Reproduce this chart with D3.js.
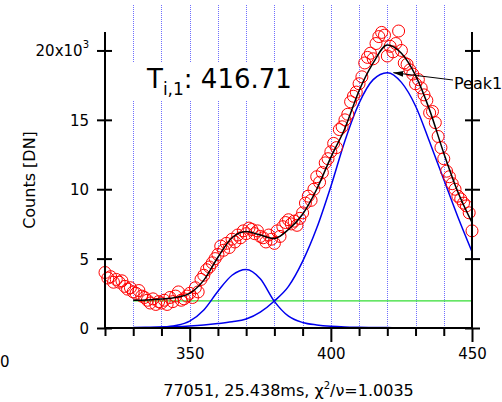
<!DOCTYPE html>
<html>
<head>
<meta charset="utf-8">
<script src="https://cdn.jsdelivr.net/npm/d3@7"></script>
<style>
  body { margin: 0; background: #fff; }
  svg { display: block; font-family: "DejaVu Sans", sans-serif; }
</style>
</head>
<body>
<svg width="502" height="402"></svg>
<script>
// measured counts (channel 320..450, step 1), in units of 10^3 DN
var dataX = d3.range(320, 451);
var dataY = [
  4.0, 3.6, 3.7, 3.3, 3.5, 3.3, 3.4, 3.0, 2.8, 2.9,
  2.6, 2.5, 2.7, 2.3, 2.2, 2.0, 1.8, 2.1, 1.7, 1.9,
  1.8, 2.0, 1.7, 2.2, 1.9, 2.3, 2.6, 2.0, 2.1, 2.3,
  2.5, 2.2, 2.9, 2.6, 3.5, 3.8, 4.2, 4.4, 4.7, 5.0,
  5.3, 5.9, 5.6, 6.1, 5.8, 6.4, 6.2, 6.7, 6.5, 7.0,
  6.8, 7.2, 7.1, 6.8, 7.0, 6.6, 6.5, 6.2, 6.7, 6.4,
  6.1, 7.0, 6.6, 7.3, 7.6, 7.8, 7.5, 7.7, 7.4, 7.9,
  8.3, 9.0, 9.5, 9.2, 10.0, 10.9, 10.5, 11.2, 11.9, 12.2,
  12.7, 13.3, 13.0, 14.3, 14.5, 15.0, 15.4, 16.3, 16.7, 17.0,
  17.6, 18.1, 19.1, 19.5, 19.8, 19.4, 20.5, 21.0, 21.3, 21.1,
  19.6, 20.3, 19.9, 20.5, 21.4, 20.0, 19.1, 19.0, 18.6, 18.3,
  17.6, 17.9, 17.3, 16.8, 16.4, 15.5, 15.6, 14.8, 13.8, 13.0,
  12.2, 11.3, 10.9, 10.4, 10.0, 9.5, 9.3, 9.0, 8.8, 8.3,
  7.0
];

// fit curves, sampled every 5 channels from 330 to 450
var fitX = d3.range(330, 451, 5);
var fitTotal = [2.0, 2.02, 2.09, 2.2, 2.5, 3.45, 5.1, 6.5, 6.95, 6.7, 6.45, 7.1, 8.2,
                10.0, 12.3, 14.4, 17.1, 19.1, 20.4, 19.8, 18.2, 15.7, 12.6, 9.8, 7.6];
var fitPeak0 = [0.0, 0.02, 0.06, 0.18, 0.5, 1.3, 2.65, 3.8, 4.22, 3.55, 1.92, 0.85, 0.4,
                0.22, 0.12, 0.07, 0.05, 0.04, 0.03, 0.02, 0.02, 0.01, 0.01, 0.01, 0.01];
var fitPeak1 = [0.03, 0.05, 0.07, 0.1, 0.15, 0.22, 0.32, 0.45, 0.65, 1.15, 1.95, 3.0, 4.8,
                7.2, 10.2, 13.5, 16.2, 17.9, 18.4, 17.7, 16.0, 13.4, 10.7, 8.0, 5.5];
var fitBase = [1.95, 1.95, 1.95, 1.95, 1.95, 1.95, 1.95, 1.95, 1.95, 1.95, 1.95, 1.95, 1.95,
               1.95, 1.95, 1.95, 1.95, 1.95, 1.95, 1.95, 1.95, 1.95, 1.95, 1.95, 1.95];

var gridX = [330, 340, 350, 360, 370, 380, 390, 400, 410, 420, 430, 440];
var xMajor = [350, 400, 450];
var xMinor = [320, 330, 340, 360, 370, 380, 390, 410, 420, 430, 440];
var yTicks = [0, 5, 10, 15, 20];

var peakLabel = "Peak1";
var peakAt = [420, 18.4];

var svg = d3.select('svg');

var x = d3.scaleLinear().domain([320, 450]).range([105, 472]);
var y = d3.scaleLinear().domain([0, 21.33]).range([328, 32]);

// dotted grid
svg.append('g')
  .selectAll('line')
  .data(gridX)
  .enter()
  .append('line')
  .attr('x1', function(d) { return Math.round(x(d)) + 0.5; })
  .attr('x2', function(d) { return Math.round(x(d)) + 0.5; })
  .attr('y1', 5)
  .attr('y2', y(0))
  .attr('stroke', '#6f6fff')
  .attr('stroke-width', 1)
  .attr('stroke-dasharray', '1,1');

// label box (white background hides the grid)
svg.append('rect')
  .attr('x', 129).attr('y', 62).attr('width', 162).attr('height', 38)
  .attr('fill', '#fff');

var title = svg.append('text')
  .attr('x', 147).attr('y', 88)
  .attr('font-size', 26)
  .attr('fill', '#000');
title.append('tspan').text('T');
title.append('tspan').attr('font-size', 17).attr('dy', 7).text('i,1');
title.append('tspan').attr('dy', -7).text(': 416.71');

// fit lines
var line = function(arr) {
  return d3.line()
    .x(function(d, i) { return x(fitX[i]); })
    .y(function(d) { return y(d); })
    .curve(d3.curveMonotoneX)(arr);
};

svg.append('path').attr('d', line(fitBase))
  .attr('fill', 'none').attr('stroke', '#33dd33').attr('stroke-width', 1.2);
svg.append('path').attr('d', line(fitPeak0))
  .attr('fill', 'none').attr('stroke', '#0000ee').attr('stroke-width', 1.5);
svg.append('path').attr('d', line(fitPeak1))
  .attr('fill', 'none').attr('stroke', '#0000ee').attr('stroke-width', 1.5);

// data points
svg.append('g')
  .selectAll('circle')
  .data(dataY)
  .enter()
  .append('circle')
  .attr('cx', function(d, i) { return x(dataX[i]); })
  .attr('cy', function(d) { return y(d); })
  .attr('r', 6)
  .attr('fill', 'none')
  .attr('stroke', '#ff0000')
  .attr('stroke-width', 1);

svg.append('path').attr('d', line(fitTotal))
  .attr('fill', 'none').attr('stroke', '#000').attr('stroke-width', 1.5);

// axes
var bottomMajor = d3.axisBottom(x).tickValues(xMajor).tickSize(14).tickPadding(6)
  .tickFormat(d3.format('d'));
var bottomMinor = d3.axisBottom(x).tickValues(xMinor).tickSize(8).tickFormat('');

var gxMinor = svg.append('g').attr('transform', 'translate(0,' + y(0) + ')').call(bottomMinor);
var gx = svg.append('g').attr('transform', 'translate(0,' + y(0) + ')').call(bottomMajor);

var gyL = svg.append('g').attr('transform', 'translate(' + x(320) + ',0)')
  .call(d3.axisLeft(y).tickValues(yTicks).tickSize(8).tickPadding(8));
var gyR = svg.append('g').attr('transform', 'translate(' + x(450) + ',0)')
  .call(d3.axisRight(y).tickValues(yTicks).tickSize(8).tickFormat(''));

gyL.selectAll('.tick line').attr('x1', 7);
gyR.selectAll('.tick line').attr('x1', -7);

[gx, gxMinor, gyL, gyR].forEach(function(g) {
  g.select('.domain').remove();
  g.selectAll('.tick line').attr('stroke', '#000').attr('stroke-width', 2);
  g.selectAll('text').attr('font-size', 15).attr('font-family', '"DejaVu Sans", sans-serif')
    .attr('fill', '#000');
});

gyL.selectAll('.tick text').attr('dy', '0.36em').attr('x', -16).attr('text-anchor', 'end')
  .each(function(d) {
    if (d === 20) {
      var t = d3.select(this).text('20x10');
      t.append('tspan').attr('font-size', 10).attr('dy', -8).text('3');
    }
  });

// axis lines
svg.append('line')
  .attr('x1', x(320)).attr('x2', x(450)).attr('y1', y(0)).attr('y2', y(0))
  .attr('stroke', '#000').attr('stroke-width', 2);
svg.append('line')
  .attr('x1', x(320)).attr('x2', x(320)).attr('y1', 32).attr('y2', y(0))
  .attr('stroke', '#000').attr('stroke-width', 2);
svg.append('line')
  .attr('x1', x(450)).attr('x2', x(450)).attr('y1', 32).attr('y2', y(0))
  .attr('stroke', '#000').attr('stroke-width', 2);

// stray label at the left edge
svg.append('text').attr('x', 0).attr('y', 367)
  .attr('font-size', 15).text('0');

// axis titles
svg.append('text')
  .attr('transform', 'translate(35,' + ((32 + 328) / 2) + ') rotate(-90)')
  .attr('text-anchor', 'middle')
  .attr('font-size', 16)
  .text('Counts [DN]');

var xt = svg.append('text')
  .attr('x', (x(320) + x(450)) / 2).attr('y', 396)
  .attr('text-anchor', 'middle')
  .attr('font-size', 16);
xt.append('tspan').text('77051, 25.438ms, χ');
xt.append('tspan').attr('font-size', 10).attr('dy', -7).text('2');
xt.append('tspan').attr('dy', 7).text('/ν=1.0035');

// peak annotation
svg.append('defs').append('marker')
  .attr('id', 'arr').attr('viewBox', '0 0 10 6').attr('refX', 10).attr('refY', 3)
  .attr('markerWidth', 10).attr('markerHeight', 6).attr('markerUnits', 'userSpaceOnUse')
  .attr('orient', 'auto')
  .append('path').attr('d', 'M0,0 L10,3 L0,6 Z').attr('fill', '#000');

svg.append('line')
  .attr('x1', 453).attr('y1', 80)
  .attr('x2', x(peakAt[0]) + 6).attr('y2', y(peakAt[1]))
  .attr('stroke', '#000').attr('stroke-width', 1)
  .attr('marker-end', 'url(#arr)');

svg.append('text').attr('x', 454).attr('y', 89).attr('font-size', 16).text(peakLabel);
</script>
</body>
</html>
